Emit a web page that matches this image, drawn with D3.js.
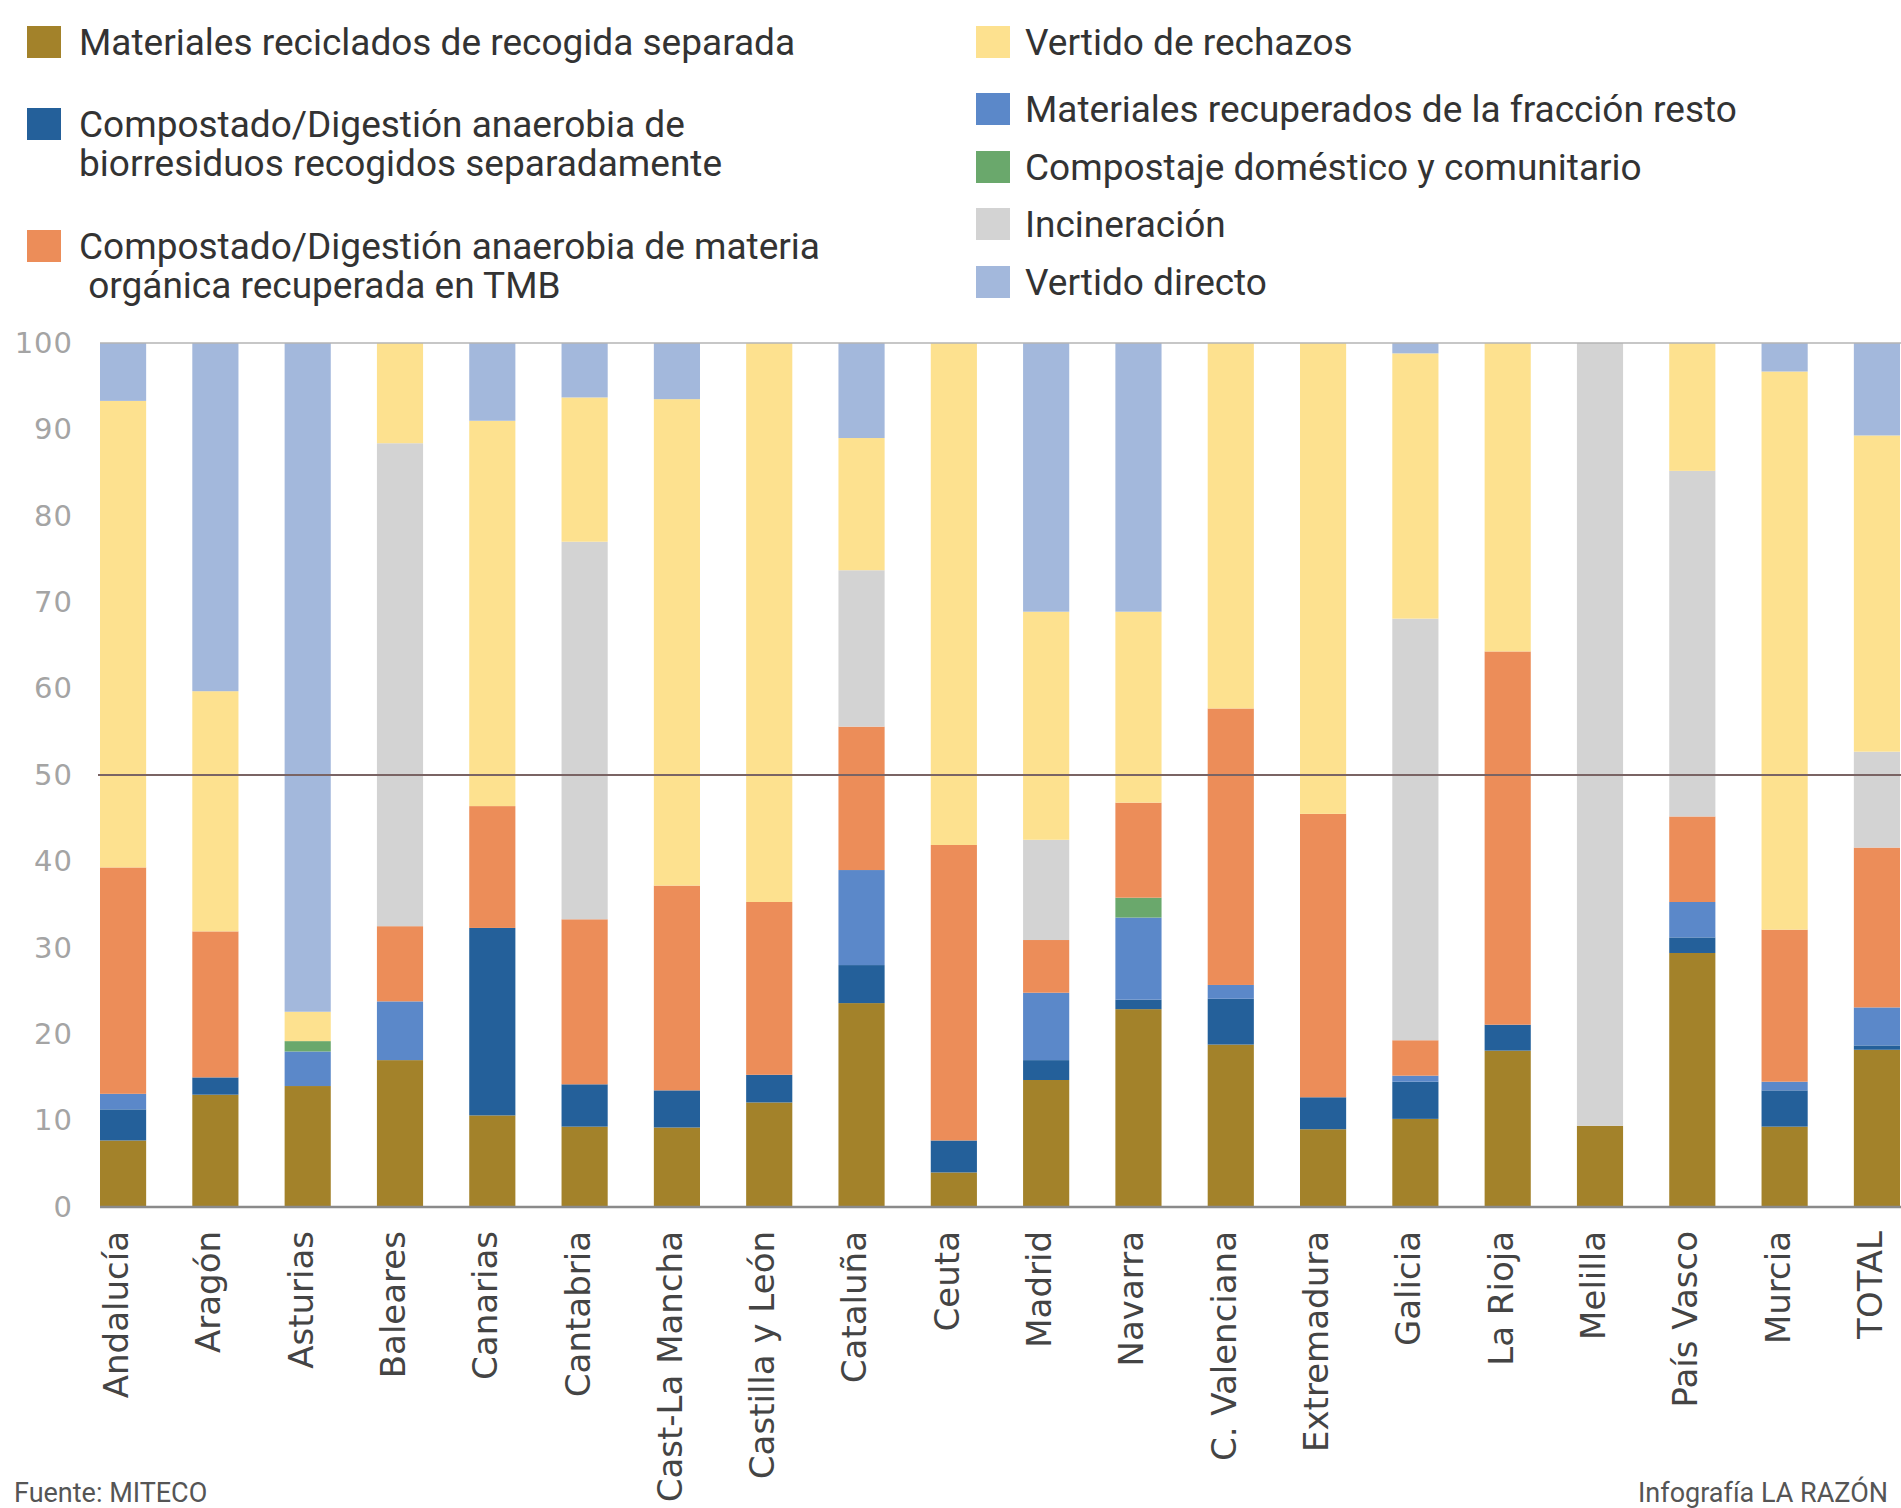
<!DOCTYPE html>
<html>
<head>
<meta charset="utf-8">
<script src="https://cdn.jsdelivr.net/npm/d3@7"></script>
<style>
  body { margin: 0; background: #fff; overflow: hidden; }
</style>
</head>
<body>
<div id="chart"></div>
<script>
// Regions (x categories)
const regions = ["Andalucía", "Aragón", "Asturias", "Baleares", "Canarias", "Cantabria",
  "Cast-La Mancha", "Castilla y León", "Cataluña", "Ceuta", "Madrid", "Navarra",
  "C. Valenciana", "Extremadura", "Galicia", "La Rioja", "Melilla", "País Vasco", "Murcia", "TOTAL"];

// Series values (% of each region), bottom to top
const recicladosSeparada = [7.7, 13.0, 14.0, 17.0, 10.6, 9.3, 9.2, 12.1, 23.6, 4.0, 14.7, 22.9, 18.8, 9.0, 10.2, 18.1, 9.4, 29.4, 9.3, 18.2];
const biorresiduos       = [3.6, 2.0, 0, 0, 21.7, 4.9, 4.3, 3.2, 4.4, 3.7, 2.3, 1.1, 5.3, 3.7, 4.3, 3.0, 0, 1.8, 4.2, 0.5];
const recuperadosResto   = [1.8, 0, 4.0, 6.8, 0, 0, 0, 0, 11.0, 0, 7.8, 9.5, 1.6, 0, 0.7, 0, 0, 4.1, 1.0, 4.4];
const compostajeDomestico = [0, 0, 1.2, 0, 0, 0, 0, 0, 0, 0, 0, 2.3, 0, 0, 0, 0, 0, 0, 0, 0];
const organicaTMB        = [26.2, 16.9, 0, 8.7, 14.1, 19.1, 23.7, 20.0, 16.6, 34.2, 6.1, 11.0, 32.0, 32.8, 4.1, 43.2, 0, 9.9, 17.6, 18.5];
const incineracion       = [0, 0, 0, 55.9, 0, 43.7, 0, 0, 18.1, 0, 11.6, 0, 0, 0, 48.8, 0, 90.6, 40.0, 0, 11.1];
const vertidoRechazos    = [54.0, 27.8, 3.4, 11.6, 44.6, 16.7, 56.3, 64.7, 15.3, 58.1, 26.4, 22.1, 42.3, 54.5, 30.7, 35.7, 0, 14.8, 64.6, 36.6];
const vertidoDirecto     = [6.7, 40.3, 77.4, 0, 9.0, 6.3, 6.5, 0, 11.0, 0, 31.1, 31.1, 0, 0, 1.2, 0, 0, 0, 3.3, 10.7];

const yTicks = [0, 10, 20, 30, 40, 50, 60, 70, 80, 90, 100];

const series = [
  { key: "reciclados", values: recicladosSeparada, color: "#a3822a" },
  { key: "bio", values: biorresiduos, color: "#24609a" },
  { key: "resto", values: recuperadosResto, color: "#5b88c9" },
  { key: "domestico", values: compostajeDomestico, color: "#6aa86c" },
  { key: "tmb", values: organicaTMB, color: "#ec8d59" },
  { key: "incineracion", values: incineracion, color: "#d3d3d3" },
  { key: "rechazos", values: vertidoRechazos, color: "#fde18f" },
  { key: "directo", values: vertidoDirecto, color: "#a3b8dc" }
];

// Legend: left column, right column
const legendLeft = [
  { key: "reciclados", lines: ["Materiales reciclados de recogida separada"] },
  { key: "bio", lines: ["Compostado/Digestión anaerobia de", "biorresiduos recogidos separadamente"] },
  { key: "tmb", lines: ["Compostado/Digestión anaerobia de materia", " orgánica recuperada en TMB"] }
];
const legendRight = [
  { key: "rechazos", lines: ["Vertido de rechazos"] },
  { key: "resto", lines: ["Materiales recuperados de la fracción resto"] },
  { key: "domestico", lines: ["Compostaje doméstico y comunitario"] },
  { key: "incineracion", lines: ["Incineración"] },
  { key: "directo", lines: ["Vertido directo"] }
];

const colorOf = {};
series.forEach(s => colorOf[s.key] = s.color);

const width = 1901, height = 1508;

const svg = d3.select("#chart")
  .append("svg")
  .attr("width", width)
  .attr("height", height)
  .style("display", "block");

svg.append("rect").attr("width", width).attr("height", height).attr("fill", "#fff");

// build table for d3.stack
const table = regions.map((r, i) => {
  const row = { region: r };
  series.forEach(s => row[s.key] = s.values[i]);
  return row;
});

const stacked = d3.stack().keys(series.map(s => s.key))(table);

const x = d3.scaleBand()
  .domain(regions)
  .range([100, 1900])
  .paddingInner(0.5)
  .paddingOuter(0)
  .align(0);

const y = d3.scaleLinear()
  .domain([0, 100])
  .range([1207, 343]);

// Bars
svg.append("g")
  .selectAll("g")
  .data(stacked)
  .join("g")
  .attr("fill", d => colorOf[d.key])
  .selectAll("rect")
  .data(d => d)
  .join("rect")
  .attr("x", d => x(d.data.region))
  .attr("width", x.bandwidth())
  .attr("y", d => y(d[1]))
  .attr("height", d => Math.max(0, y(d[0]) - y(d[1])));

// Top line at 100
svg.append("line")
  .attr("x1", 100).attr("x2", width)
  .attr("y1", y(100)).attr("y2", y(100))
  .attr("stroke", "#b5b5b5").attr("stroke-width", 1.5);

// 50% line
svg.append("line")
  .attr("x1", 98).attr("x2", width)
  .attr("y1", y(50)).attr("y2", y(50))
  .attr("stroke", "#7a6464").attr("stroke-width", 2);

// Baseline
svg.append("line")
  .attr("x1", 100).attr("x2", width)
  .attr("y1", y(0)).attr("y2", y(0))
  .attr("stroke", "#8a8a8a").attr("stroke-width", 2.5);

// Y axis labels
const yAxis = svg.append("g")
  .attr("transform", "translate(73,0)")
  .call(d3.axisLeft(y).tickValues(yTicks).tickSize(0).tickPadding(0));
yAxis.select(".domain").remove();
yAxis.selectAll("text")
  .attr("font-family", "DejaVu Sans, sans-serif")
  .attr("font-size", "29px")
  .attr("fill", "#a4a4a4")
  .attr("letter-spacing", "1px");

// X axis labels (rotated)
svg.append("g")
  .selectAll("text")
  .data(regions)
  .join("text")
  .attr("transform", d => `translate(${x(d) + x.bandwidth() / 2 - 7},1231) rotate(-90)`)
  .attr("text-anchor", "end")
  .attr("dy", "0.35em")
  .attr("font-family", "DejaVu Sans, sans-serif")
  .attr("font-size", "34px")
  .attr("fill", "#444")
  .text(d => d);

// Legend
function drawLegend(items, swatchX, textX, rows) {
  items.forEach((item, i) => {
    const cy = rows[i];
    svg.append("rect")
      .attr("x", swatchX)
      .attr("y", cy - 16)
      .attr("width", 34)
      .attr("height", 32)
      .attr("fill", colorOf[item.key]);
    const t = svg.append("text")
      .attr("font-family", "Roboto, sans-serif")
      .attr("font-size", "37px")
      .attr("fill", "#333");
    item.lines.forEach((line, j) => {
      t.append("tspan")
        .attr("x", textX)
        .attr("y", cy + j * 39)
        .attr("dy", "0.36em")
        .style("white-space", "pre")
        .text(line);
    });
  });
}
drawLegend(legendLeft, 27, 79, [42, 124, 246]);
drawLegend(legendRight, 976, 1025, [42, 109, 167, 224, 282]);

// Footer
svg.append("text")
  .attr("x", 14).attr("y", 1502)
  .attr("font-family", "Roboto, sans-serif")
  .attr("font-size", "27px")
  .attr("fill", "#555")
  .text("Fuente: MITECO");

svg.append("text")
  .attr("x", 1638).attr("y", 1502)
  .attr("font-family", "Roboto, sans-serif")
  .attr("font-size", "27px")
  .attr("fill", "#555")
  .text("Infografía LA RAZÓN");
</script>
</body>
</html>
